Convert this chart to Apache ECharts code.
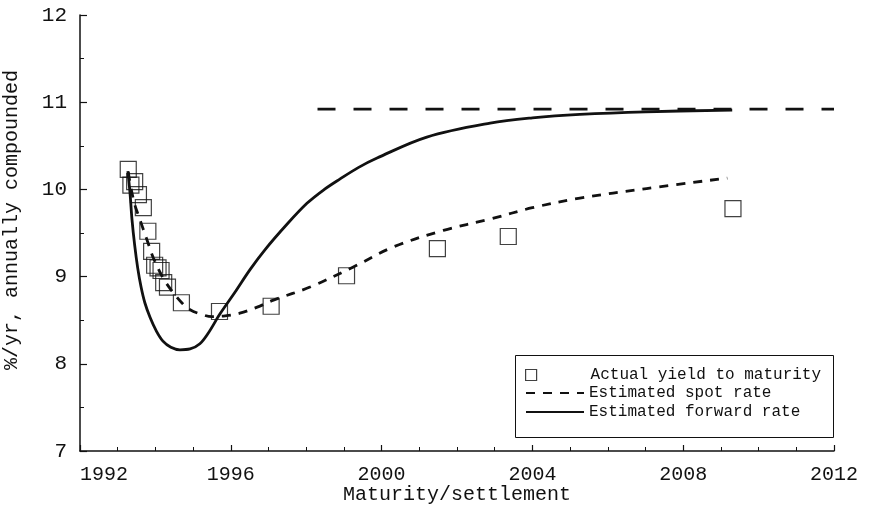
<!DOCTYPE html>
<html>
<head>
<meta charset="utf-8">
<title>Yield curve</title>
<script src="https://cdn.jsdelivr.net/npm/echarts@6/dist/echarts.min.js"></script>
<style>
  html, body { margin: 0; padding: 0; background: #fff; }
  #chart { width: 870px; height: 520px; }
</style>
</head>
<body>
<div id="chart"></div>
<script>
// Observed yields to maturity (maturity year, % per year)
const ytmYears = [1993.28, 1993.35, 1993.45, 1993.55, 1993.68, 1993.80, 1993.90, 1993.98,
  1994.07, 1994.15, 1994.22, 1994.32, 1994.69, 1995.70, 1997.07, 1999.07, 2001.48, 2003.36, 2009.32];
const ytmValues = [10.23, 10.05, 10.09, 9.94, 9.79, 9.52, 9.29, 9.13,
  9.10, 9.07, 8.93, 8.88, 8.70, 8.60, 8.66, 9.01, 9.32, 9.46, 9.78];

// Fitted spot-rate curve
const spotYears = [1993.28, 1993.35, 1993.45, 1993.55, 1993.64, 1993.81, 1993.95, 1994.21,
  1994.43, 1994.70, 1994.92, 1995.20, 1995.50, 1995.85, 1996.24, 1996.70, 1997.13, 1998.10,
  1999.25, 2000.31, 2001.64, 2002.88, 2004.00, 2005.26, 2007.03, 2009.17];
const spotValues = [10.20, 10.02, 9.83, 9.70, 9.59, 9.38, 9.21, 8.98,
  8.84, 8.70, 8.62, 8.57, 8.54, 8.55, 8.58, 8.65, 8.73, 8.88,
  9.11, 9.34, 9.53, 9.66, 9.79, 9.90, 10.01, 10.13];

// Fitted forward-rate curve
const fwdYears = [1993.27, 1993.33, 1993.38, 1993.45, 1993.53, 1993.62, 1993.72, 1993.86,
  1994.02, 1994.20, 1994.41, 1994.65, 1994.92, 1995.18, 1995.40, 1995.71, 1996.11, 1996.51,
  1996.91, 1997.49, 1998.02, 1998.45, 1998.90, 1999.38, 1999.88, 2001.20, 2002.88, 2004.00,
  2005.26, 2007.00, 2009.30];
const fwdValues = [10.21, 9.94, 9.65, 9.36, 9.10, 8.88, 8.70, 8.53,
  8.38, 8.26, 8.19, 8.16, 8.17, 8.23, 8.35, 8.57, 8.82, 9.08,
  9.31, 9.60, 9.84, 9.99, 10.12, 10.25, 10.36, 10.60, 10.76, 10.82,
  10.86, 10.89, 10.91];

// Long-run level the forward curve tends to
const limitYears = [1998.3, 2012];
const limitValues = [10.92, 10.92];

// Axis tick labels
const xTickLabels = ['1992', '1996', '2000', '2004', '2008', '2012'];
const yTickLabels = ['7', '8', '9', '10', '11', '12'];

const zip = (xs, ys) => xs.map((x, i) => [x, ys[i]]);

const INK = '#111';
const MONO = '"Liberation Mono", "DejaVu Sans Mono", monospace';

const chart = echarts.init(document.getElementById('chart'), null, { renderer: 'canvas' });

const legendBase = {
  orient: 'vertical',
  left: 525,
  padding: 0,
  selectedMode: false,
  textStyle: { fontFamily: MONO, fontSize: 16, color: INK }
};

// line legend entries show only the stroke, no marker
const lineLegend = {
  itemWidth: 58,
  itemHeight: 14,
  itemStyle: { color: 'rgba(0,0,0,0)', borderWidth: 0, opacity: 0 }
};

chart.setOption({
  animation: false,
  backgroundColor: '#fff',
  grid: { left: 80, right: 36, top: 15, bottom: 69, containLabel: false, outerBoundsMode: 'none' },
  xAxis: {
    type: 'value',
    min: 1992,
    max: 2012,
    interval: 4,
    name: 'Maturity/settlement',
    nameLocation: 'middle',
    nameGap: 34,
    nameMoveOverlap: false,
    nameTextStyle: { fontFamily: MONO, fontSize: 20, color: INK },
    axisLine: { show: true, onZero: false, lineStyle: { color: INK, width: 1.5 } },
    axisTick: { show: true, inside: true, length: 6, lineStyle: { color: INK, width: 1.2 } },
    minorTick: { show: true, splitNumber: 4, length: 4, lineStyle: { color: INK, width: 1 } },
    splitLine: { show: false },
    axisLabel: {
      fontFamily: MONO, fontSize: 20, color: INK, margin: 14,
      alignMinLabel: 'left',
      formatter: v => xTickLabels[Math.round((v - 1992) / 4)]
    }
  },
  yAxis: {
    type: 'value',
    min: 7,
    max: 12,
    interval: 1,
    name: '%/yr, annually compounded',
    nameLocation: 'middle',
    nameRotate: 90,
    nameGap: 58,
    nameMoveOverlap: false,
    nameTextStyle: { fontFamily: MONO, fontSize: 20, color: INK, padding: [0, 0, 0, 26] },
    axisLine: { show: true, onZero: false, lineStyle: { color: INK, width: 1.5 } },
    axisTick: { show: true, inside: true, length: 7, lineStyle: { color: INK, width: 1.2 } },
    minorTick: { show: true, splitNumber: 2, length: 4, lineStyle: { color: INK, width: 1 } },
    splitLine: { show: false },
    axisLabel: {
      fontFamily: MONO, fontSize: 21, color: INK, margin: 13,
      formatter: v => yTickLabels[Math.round(v - 7)]
    }
  },
  legend: [
    Object.assign({}, legendBase, {
      top: 367,
      data: ['Actual yield to maturity'],
      icon: 'rect',
      itemWidth: 11,
      itemHeight: 11,
      itemStyle: { color: 'rgba(0,0,0,0)', borderColor: INK, borderWidth: 1.2 },
      textStyle: { fontFamily: MONO, fontSize: 16, color: INK, padding: [0, 0, 0, 49] }
    }),
    Object.assign({}, legendBase, lineLegend, {
      top: 385,
      data: ['Estimated spot rate']
    }),
    Object.assign({}, legendBase, lineLegend, {
      top: 404,
      data: ['Estimated forward rate']
    })
  ],
  graphic: [{
    type: 'rect',
    shape: { x: 515.5, y: 355.5, width: 318, height: 82 },
    style: { fill: 'rgba(0,0,0,0)', stroke: INK, lineWidth: 1 },
    z: 1
  }],
  series: [
    {
      name: 'Actual yield to maturity',
      type: 'scatter',
      data: zip(ytmYears, ytmValues),
      symbol: 'rect',
      symbolSize: 16,
      itemStyle: { color: 'rgba(0,0,0,0)', borderColor: INK, borderWidth: 1.2 },
      emphasis: { disabled: true },
      z: 2
    },
    {
      name: 'Estimated spot rate',
      type: 'line',
      data: zip(spotYears, spotValues),
      showSymbol: false,
      symbol: 'none',
      smooth: 0.35,
      lineStyle: { color: INK, width: 2.8, type: [9, 8] },
      itemStyle: { color: INK },
      emphasis: { disabled: true },
      z: 3
    },
    {
      name: 'Estimated forward rate',
      type: 'line',
      data: zip(fwdYears, fwdValues),
      showSymbol: false,
      symbol: 'none',
      smooth: 0.35,
      lineStyle: { color: INK, width: 2.8 },
      itemStyle: { color: INK },
      emphasis: { disabled: true },
      z: 3
    },
    {
      name: 'Long-run forward rate',
      type: 'line',
      data: zip(limitYears, limitValues),
      showSymbol: false,
      symbol: 'none',
      lineStyle: { color: INK, width: 2.8, type: [18, 18] },
      emphasis: { disabled: true },
      z: 3
    }
  ]
});
</script>
</body>
</html>
